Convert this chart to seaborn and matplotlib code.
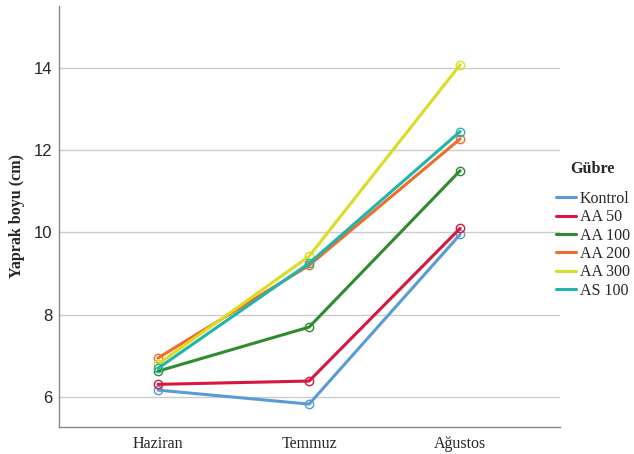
import numpy as np
import pandas as pd
import matplotlib
matplotlib.use("Agg")
import matplotlib.pyplot as plt
import seaborn as sns

# --------------------------------------------------------------------------------
months = ["Haziran", "Temmuz", "Ağustos"]
groups = ["Kontrol", "AA 50", "AA 100", "AA 200", "AA 300", "AS 100"]
kontrol = [6.17, 5.83, 9.95]
aa50 = [6.31, 6.39, 10.10]
aa100 = [6.63, 7.70, 11.50]
aa200 = [6.95, 9.20, 12.27]
aa300 = [6.80, 9.42, 14.07]
as100 = [6.70, 9.25, 12.45]
colors = ["#5b9bd5", "#d8173f", "#2e8b2e", "#f26b2a", "#dcdc22", "#1fb5a8"]
# --------------------------------------------------------------------------------

values = [kontrol, aa50, aa100, aa200, aa300, as100]
records = []
for g, vals in zip(groups, values):
    for i, (m, v) in enumerate(zip(months, vals)):
        records.append({"Gübre": g, "pos": i, "Ay": m, "Yaprak": v})
df = pd.DataFrame(records)

sns.set_style("white")
fig = plt.figure(figsize=(6.34, 4.54), dpi=100)
ax = fig.add_axes([0.093, 0.06, 0.79, 0.927])

sns.lineplot(data=df, x="pos", y="Yaprak", hue="Gübre", hue_order=groups,
             palette=colors, marker="o", markersize=6, linewidth=2.2,
             markeredgewidth=1.0, ax=ax, legend=True)
for ln in ax.get_lines():
    ln.set_markerfacecolor("none")
    ln.set_markeredgecolor(ln.get_color())

ax.set_xlim(-0.656, 2.66)
ax.set_ylim(5.28, 15.5)
ax.set_xticks(range(len(months)))
ax.set_xticklabels(months, family="Liberation Serif", fontsize=11.5)
ax.set_yticks([6, 8, 10, 12, 14])
ax.set_yticklabels(["6", "8", "10", "12", "14"], family="Liberation Sans", fontsize=12)
ax.tick_params(axis="y", length=0, pad=5)
ax.tick_params(axis="x", length=0, pad=7)
ax.yaxis.grid(True, color="#cccccc", linewidth=1.0)
ax.set_axisbelow(True)
ax.set_xlabel("")
ax.set_ylabel("Yaprak boyu (cm)", family="Liberation Serif", fontweight="bold",
              fontsize=11.5, labelpad=6)
for s in ["top", "right"]:
    ax.spines[s].set_visible(False)
for s in ["left", "bottom"]:
    ax.spines[s].set_color("#888888")
    ax.spines[s].set_linewidth(1.0)

handles, labels = ax.get_legend_handles_labels()
for h in handles:
    h.set_marker("")
leg = ax.legend(handles, labels, title="Gübre", loc="center left",
                bbox_to_anchor=(0.979, 0.468), frameon=False,
                prop={"family": "Liberation Serif", "size": 11.5},
                handlelength=1.3, handletextpad=0.2, labelspacing=0.15,
                borderaxespad=0)
leg.get_title().set_fontfamily("Liberation Serif")
leg.get_title().set_fontweight("bold")
leg.get_title().set_fontsize(11.5)
leg._legend_box.sep = 10

fig.savefig("out.png", dpi=100)
